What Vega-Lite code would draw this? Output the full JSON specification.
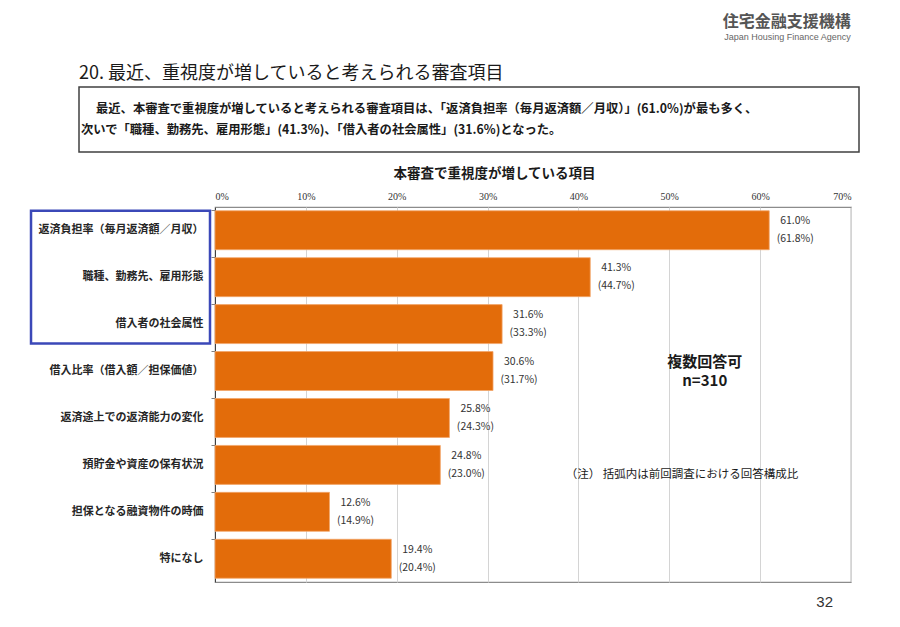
{
  "$schema": "https://vega.github.io/schema/vega-lite/v6.json",
  "description": "最近、重視度が増していると考えられる審査項目",
  "background": "white",
  "padding": {"left": 28, "top": 14, "right": 42, "bottom": 6},
  "title": {
    "text": "住宅金融支援機構",
    "subtitle": "Japan Housing Finance Agency",
    "anchor": "end",
    "font": "Noto Sans CJK JP",
    "fontSize": 16,
    "fontWeight": "bold",
    "color": "#555555",
    "subtitleFont": "Liberation Sans",
    "subtitleFontSize": 9,
    "subtitleColor": "#666666",
    "subtitlePadding": 3,
    "dx": -9,
    "offset": 22
  },
  "config": {
    "font": "Noto Sans CJK JP",
    "view": {"stroke": null}
  },
  "spacing": 12,
  "vconcat": [
    {
      "spacing": 10,
      "hconcat": [
        {
          "width": 40,
          "height": 10,
          "data": {"values": []},
          "mark": "point"
        },
        {
          "width": 780,
          "height": 65,
          "title": {
            "text": "20. 最近、重視度が増していると考えられる審査項目",
            "anchor": "start",
            "fontSize": 18,
            "fontWeight": "normal",
            "color": "#1a1a1a",
            "offset": 4
          },
          "view": {"stroke": "#404040", "strokeWidth": 1.5},
          "data": {
            "values": [
              {"line": 1, "text": "最近、本審査で重視度が増していると考えられる審査項目は、「返済負担率（毎月返済額／月収）」(61.0%)が最も多く、"},
              {"line": 2, "text": "次いで「職種、勤務先、雇用形態」(41.3%)、「借入者の社会属性」(31.6%)となった。"}
            ]
          },
          "encoding": {
            "x": {"datum": 0, "type": "quantitative", "scale": {"domain": [0, 1]}, "axis": null},
            "y": {"field": "line", "type": "ordinal", "scale": {"padding": 1.3}, "axis": null},
            "text": {"field": "text"}
          },
          "layer": [
            {
              "transform": [{"filter": "datum.line === 1"}],
              "mark": {"type": "text", "align": "left", "baseline": "middle", "fontSize": 12.3, "fontWeight": "bold", "color": "#1a1a1a", "dx": 17}
            },
            {
              "transform": [{"filter": "datum.line === 2"}],
              "mark": {"type": "text", "align": "left", "baseline": "middle", "fontSize": 12.3, "fontWeight": "bold", "color": "#1a1a1a", "dx": 2}
            }
          ]
        }
      ]
    },
    {
      "spacing": 0,
      "hconcat": [
        {
          "width": 1,
          "height": 10,
          "data": {"values": []},
          "mark": "point"
        },
        {
          "width": 636,
          "height": 375,
          "title": {
            "text": "32",
            "orient": "bottom",
            "anchor": "end",
            "font": "Liberation Sans",
            "fontSize": 15,
            "fontWeight": "normal",
            "color": "#333333",
            "dx": -18,
            "offset": 13
          },
          "view": {"stroke": "#8c8c8c", "strokeWidth": 1.2},
          "data": {
            "values": [
              {"item": "返済負担率（毎月返済額／月収）", "now": 61.0, "prev": 61.8},
              {"item": "職種、勤務先、雇用形態", "now": 41.3, "prev": 44.7},
              {"item": "借入者の社会属性", "now": 31.6, "prev": 33.3},
              {"item": "借入比率（借入額／担保価値）", "now": 30.6, "prev": 31.7},
              {"item": "返済途上での返済能力の変化", "now": 25.8, "prev": 24.3},
              {"item": "預貯金や資産の保有状況", "now": 24.8, "prev": 23.0},
              {"item": "担保となる融資物件の時価", "now": 12.6, "prev": 14.9},
              {"item": "特になし", "now": 19.4, "prev": 20.4}
            ]
          },
          "transform": [
            {"calculate": "format(datum.now, '.1f') + '%'", "as": "nowLabel"},
            {"calculate": "'(' + format(datum.prev, '.1f') + '%)'", "as": "prevLabel"}
          ],
          "encoding": {
            "y": {
              "field": "item",
              "type": "nominal",
              "sort": null,
              "scale": {"paddingInner": 0.17, "paddingOuter": 0.08},
              "axis": {
                "title": null,
                "labelFontSize": 11,
                "labelFontWeight": "bold",
                "labelColor": "#262626",
                "labelPadding": 8,
                "ticks": true,
                "tickSize": 4,
                "tickColor": "#808080",
                "domainColor": "#404040",
                "bandPosition": 0
              }
            }
          },
          "layer": [
            {
              "mark": {"type": "bar", "color": "#E36C0A", "stroke": "#F3A66A", "strokeWidth": 0.8},
              "encoding": {
                "x": {
                  "field": "now",
                  "type": "quantitative",
                  "scale": {"domain": [0, 70]},
                  "axis": {
                    "orient": "top",
                    "values": [0, 10, 20, 30, 40, 50, 60, 70],
                    "labelExpr": "datum.value + '%'",
                    "labelFont": "Liberation Sans Narrow",
                    "labelFontSize": 10,
                    "labelColor": "#333333",
                    "labelPadding": 6,
                    "ticks": false,
                    "domain": false,
                    "grid": true,
                    "gridColor": "#d4d4d4",
                    "title": "本審査で重視度が増している項目",
                    "titleFontSize": 13.5,
                    "titleFontWeight": "bold",
                    "titleColor": "#1a1a1a",
                    "titlePadding": 11,
                    "titleX": 279
                  }
                }
              }
            },
            {
              "mark": {"type": "text", "align": "center", "baseline": "middle", "dx": 26, "dy": -9, "fontSize": 10.5, "color": "#333333"},
              "encoding": {
                "x": {"field": "now", "type": "quantitative"},
                "text": {"field": "nowLabel"}
              }
            },
            {
              "mark": {"type": "text", "align": "center", "baseline": "middle", "dx": 26, "dy": 9, "fontSize": 10.5, "color": "#333333"},
              "encoding": {
                "x": {"field": "now", "type": "quantitative"},
                "text": {"field": "prevLabel"}
              }
            },
            {
              "data": {"values": [{"note": "複数回答可", "at": 53.9, "row": "借入比率（借入額／担保価値）"}]},
              "mark": {"type": "text", "align": "center", "baseline": "middle", "dy": -9, "fontWeight": "bold", "fontSize": 15, "color": "#1a1a1a"},
              "encoding": {
                "x": {"field": "at", "type": "quantitative"},
                "y": {"field": "row", "type": "nominal", "sort": null},
                "text": {"field": "note"}
              }
            },
            {
              "data": {"values": [{"note": "n=310", "at": 53.9, "row": "借入比率（借入額／担保価値）"}]},
              "mark": {"type": "text", "align": "center", "baseline": "middle", "dy": 10, "fontWeight": "bold", "fontSize": 15, "color": "#1a1a1a"},
              "encoding": {
                "x": {"field": "at", "type": "quantitative"},
                "y": {"field": "row", "type": "nominal", "sort": null},
                "text": {"field": "note"}
              }
            },
            {
              "data": {"values": [{"note": "（注） 括弧内は前回調査における回答構成比", "at": 51.4, "row": "預貯金や資産の保有状況"}]},
              "mark": {"type": "text", "align": "center", "baseline": "middle", "dy": 10, "fontSize": 11.5, "color": "#1a1a1a"},
              "encoding": {
                "x": {"field": "at", "type": "quantitative"},
                "y": {"field": "row", "type": "nominal", "sort": null},
                "text": {"field": "note"}
              }
            },
            {
              "data": {"values": [{"from": -20.25, "to": -0.55, "first": "返済負担率（毎月返済額／月収）", "last": "借入者の社会属性"}]},
              "mark": {"type": "rect", "fill": null, "stroke": "#3B48B8", "strokeWidth": 2.5},
              "encoding": {
                "x": {"field": "from", "type": "quantitative"},
                "x2": {"field": "to"},
                "y": {"field": "first", "type": "nominal", "sort": null, "bandPosition": 0},
                "y2": {"field": "last", "bandPosition": 1}
              }
            }
          ]
        }
      ]
    }
  ]
}
